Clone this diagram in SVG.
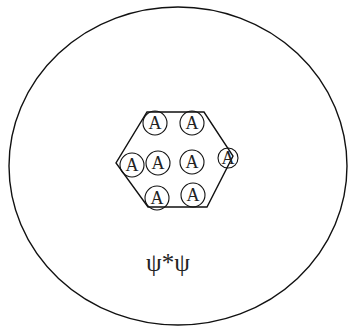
<svg xmlns="http://www.w3.org/2000/svg" width="348" height="327" viewBox="0 0 348 327">
<style>
.ln{fill:none;stroke:#111;stroke-width:1.4}
.atom{fill:none;stroke:#111;stroke-width:1.1}
.lbl{font-family:"Liberation Serif",serif;font-size:18px;fill:#222;text-anchor:middle}
.psi{font-family:"Liberation Serif",serif;font-size:25px;fill:#222;text-anchor:middle}
</style>
<rect width="348" height="327" fill="#fff"/>
<g id="outer"><ellipse class="ln" cx="178" cy="166" rx="169" ry="159"/></g>
<g id="nucleus"><polygon class="ln" points="147,112 204,112 233,156 207,207 148,207 116,163"/></g>
<g id="atoms">
<g id="a1"><circle class="atom" cx="155" cy="123" r="12"/><text class="lbl" x="155" y="129">A</text></g>
<g id="a2"><circle class="atom" cx="192" cy="123" r="12"/><text class="lbl" x="192" y="129">A</text></g>
<g id="a3"><circle class="atom" cx="132" cy="165" r="12"/><text class="lbl" x="132" y="171">A</text></g>
<g id="a4"><circle class="atom" cx="158" cy="163" r="12"/><text class="lbl" x="158" y="169">A</text></g>
<g id="a5"><circle class="atom" cx="192" cy="162" r="12"/><text class="lbl" x="192" y="168">A</text></g>
<g id="a6"><circle class="atom" cx="228" cy="158" r="10"/><text class="lbl" x="228" y="164">A</text></g>
<g id="a7"><circle class="atom" cx="157" cy="198" r="12"/><text class="lbl" x="157" y="204">A</text></g>
<g id="a8"><circle class="atom" cx="193" cy="195" r="12"/><text class="lbl" x="193" y="201">A</text></g>
</g>
<g id="label"><text class="psi" x="168" y="271">ψ*ψ</text></g>
<g id="connectors"/>
</svg>
